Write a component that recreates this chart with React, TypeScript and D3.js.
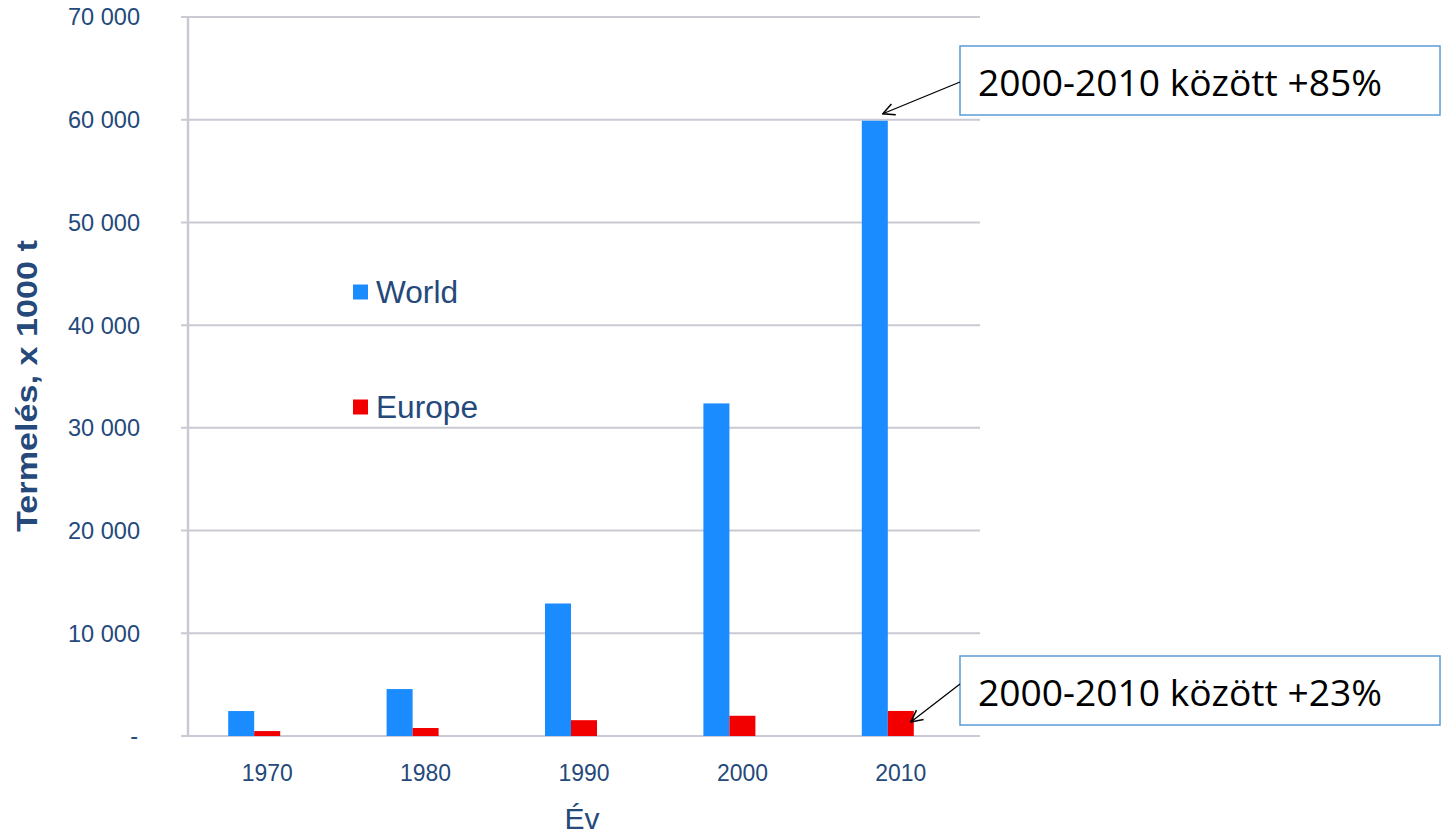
import React from "react";
import * as d3 from "d3";

const years = ["1970", "1980", "1990", "2000", "2010"];
const seriesNames = ["World", "Europe"];
const worldValues = [2430, 4570, 12900, 32380, 59900];
const europeValues = [480, 780, 1540, 1970, 2440];
const yTicks = [0, 10000, 20000, 30000, 40000, 50000, 60000, 70000];
const annotations = [
  { text: "2000-2010 között +85%", series: "World", year: "2010" },
  { text: "2000-2010 között +23%", series: "Europe", year: "2010" },
];

const W = 1444;
const H = 837;
const colors: Record<string, string> = { World: "#1a8cff", Europe: "#f20000" };
const labelColor = "#24497a";
const gridColor = "#c9cad3";

export default function App() {
  const x0 = d3.scaleBand<string>().domain(years).range([188, 980]).padding(0);
  const groupW = 78;
  const x1 = d3
    .scaleBand<string>()
    .domain([...seriesNames, "_"])
    .range([0, groupW])
    .padding(0);
  const y = d3.scaleLinear().domain([0, 70000]).range([736, 17]);
  const fmt = (v: number) => (v === 0 ? "-" : d3.format(",")(v).replace(/,/g, " "));
  const values: Record<string, number[]> = { World: worldValues, Europe: europeValues };
  const barX = (s: string, yr: string) =>
    (x0(yr) as number) + (x0.bandwidth() - groupW) / 2 + (x1(s) as number);

  const boxes = [
    { top: 46, arrowStartY: 82 },
    { top: 656, arrowStartY: 684 },
  ];

  return (
    <svg
      width={W}
      height={H}
      style={{ position: "absolute", left: 0, top: 0, background: "#fff" }}
    >
      <defs>
        <marker
          id="arr"
          viewBox="0 0 12 12"
          refX="11"
          refY="6"
          markerWidth="14"
          markerHeight="14"
          markerUnits="userSpaceOnUse"
          orient="auto"
        >
          <path d="M1,1 L11,6 L1,11" fill="none" stroke="#000" strokeWidth="1.3" />
        </marker>
      </defs>
      {yTicks.map((t) => (
        <line
          key={"g" + t}
          x1={181}
          x2={980}
          y1={y(t)}
          y2={y(t)}
          stroke={gridColor}
          strokeWidth={2}
        />
      ))}
      <line x1={188} x2={188} y1={y(70000)} y2={y(0)} stroke={gridColor} strokeWidth={2.5} />
      {yTicks.map((t) => (
        <text
          key={"t" + t}
          x={t === 0 ? 138 : 140}
          y={y(t)}
          dy="0.36em"
          textAnchor="end"
          fontFamily="Liberation Sans, Arial, sans-serif"
          fontSize={23.5}
          fill={labelColor}
          textLength={t === 0 ? undefined : 72}
          lengthAdjust="spacingAndGlyphs"
        >
          {fmt(t)}
        </text>
      ))}
      {seriesNames.map((s) =>
        years.map((yr, i) => (
          <rect
            key={s + yr}
            x={barX(s, yr)}
            width={x1.bandwidth()}
            y={y(values[s][i])}
            height={y(0) - y(values[s][i])}
            fill={colors[s]}
          />
        ))
      )}
      {years.map((yr) => (
        <text
          key={"x" + yr}
          x={(x0(yr) as number) + x0.bandwidth() / 2}
          y={781}
          textAnchor="middle"
          fontFamily="Liberation Sans, Arial, sans-serif"
          fontSize={23}
          fill={labelColor}
          textLength={51}
          lengthAdjust="spacingAndGlyphs"
        >
          {yr}
        </text>
      ))}
      <text
        x={582}
        y={829}
        textAnchor="middle"
        fontFamily="Liberation Sans, Arial, sans-serif"
        fontSize={30}
        fill={labelColor}
      >
        Év
      </text>
      <text
        transform="translate(37,386) rotate(-90)"
        textAnchor="middle"
        fontFamily="Liberation Sans, Arial, sans-serif"
        fontSize={30}
        fontWeight="bold"
        fill={labelColor}
        textLength={292}
        lengthAdjust="spacingAndGlyphs"
      >
        Termelés, x 1000 t
      </text>
      {seriesNames.map((s, i) => (
        <g key={"l" + s} transform={`translate(353,${292 + i * 115})`}>
          <rect x={0} y={-7.5} width={15} height={15} fill={colors[s]} />
          <text
            x={23}
            y={0}
            dy="0.36em"
            fontFamily="Liberation Sans, Arial, sans-serif"
            fontSize={31}
            fill={labelColor}
            textLength={s === "World" ? 82 : 102}
            lengthAdjust="spacingAndGlyphs"
          >
            {s}
          </text>
        </g>
      ))}
      {annotations.map((a, i) => {
        const b = boxes[i];
        const idx = years.indexOf(a.year);
        const v = values[a.series][idx];
        const tipX =
          a.series === "World"
            ? barX(a.series, a.year) + 21
            : barX(a.series, a.year) + 23;
        const tipY = a.series === "World" ? y(v) - 7 : y(v) + 11;
        return (
          <g key={"a" + i}>
            <rect
              x={960}
              y={b.top}
              width={480}
              height={69}
              fill="#fff"
              stroke="#5b9bd5"
              strokeWidth={1.5}
            />
            <text
              x={978}
              y={b.top + 50}
              fontFamily="Open Sans, Noto Sans, sans-serif"
              fontSize={37}
              fill="#000"
              textLength={404}
              lengthAdjust="spacingAndGlyphs"
            >
              {a.text}
            </text>
            <line
              x1={960}
              y1={b.arrowStartY}
              x2={tipX}
              y2={tipY}
              stroke="#000"
              strokeWidth={1.3}
              markerEnd="url(#arr)"
            />
          </g>
        );
      })}
    </svg>
  );
}
